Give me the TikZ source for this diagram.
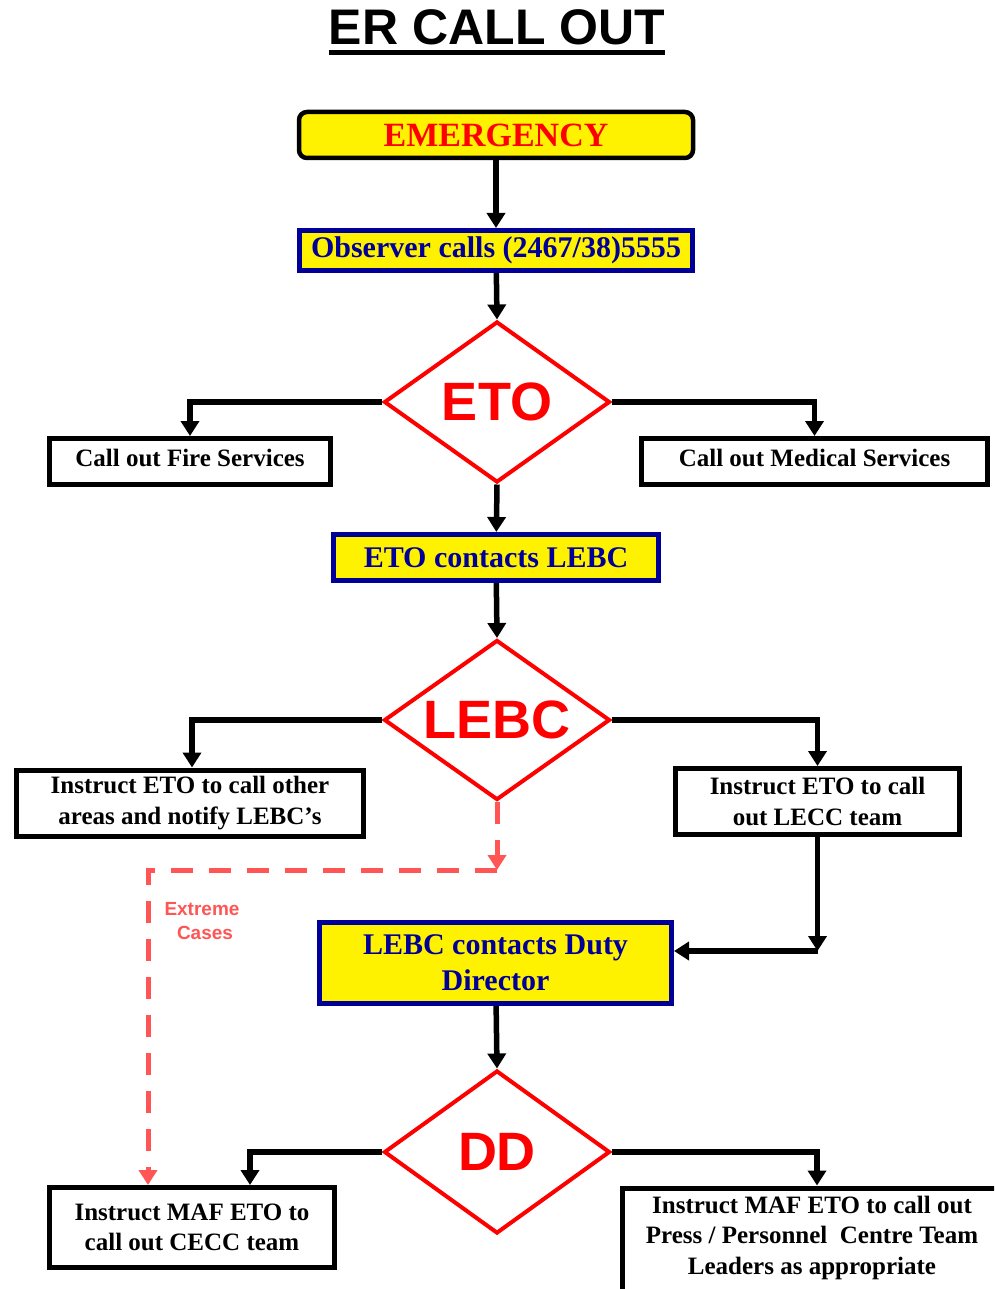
\documentclass[tikz,border=0pt]{standalone}
\usepackage{fontspec}
\setmainfont{Liberation Serif}
\newfontfamily\arialfont{Liberation Sans}
\usetikzlibrary{shapes.geometric,arrows.meta}
\definecolor{navyblue}{RGB}{0,0,153}
\definecolor{dashred}{RGB}{255,85,85}
\definecolor{ddred}{RGB}{255,0,0}
\begin{document}
\begin{tikzpicture}[x=1pt,y=-1pt,
  conn/.style={line width=5.5pt,-{Triangle[width=18pt,length=15pt]}},
  dashconn/.style={draw=dashred,line width=5pt,dash pattern=on 22pt off 16pt,-{Triangle[width=18pt,length=15pt]}},
  whitebox/.style={draw=black,line width=5pt,fill=white,inner sep=0pt,align=center,font=\bfseries\fontsize{25}{30.5}\selectfont},
  bluebox/.style={draw=navyblue,line width=5pt,fill=yellow,text=navyblue,inner sep=0pt,align=center,font=\bfseries\fontsize{30}{36}\selectfont},
  dia/.style={diamond,draw=ddred,line width=4pt,fill=white,inner sep=0pt,minimum width=226pt},
  dtext/.style={text=ddred,inner sep=0pt,font=\arialfont\bfseries\fontsize{54}{60}\selectfont}
]
\path[use as bounding box] (0,0) rectangle (994,1289);
\clip (0,0) rectangle (994,1289);

% title
\node[anchor=base,inner sep=0pt,font=\arialfont\bfseries\fontsize{50}{56}\selectfont] (title) at (497,45) {ER CALL OUT};
\draw[line width=5pt] ([yshift=-7.5pt]title.base west) -- ([yshift=-7.5pt]title.base east);

% nodes
\node[draw=black,line width=4.5pt,fill=yellow,rounded corners=8pt,inner sep=0pt,
      minimum width=394pt,minimum height=46pt,text=ddred,
      font=\bfseries\fontsize{34}{40}\selectfont] (emerg) at (496,135) {EMERGENCY};
\node[bluebox,minimum width=393pt,minimum height=40pt] (obs) at (496,250.5) {Observer calls (2467/38)5555};
\node[dia,minimum height=161pt,label={[dtext]center:ETO}] (eto) at (497,402) {};
\node[whitebox,minimum width=281pt,minimum height=46pt,text height=18pt,text depth=8pt] (fire) at (190,461.5) {Call out Fire Services};
\node[whitebox,minimum width=346pt,minimum height=46pt,text height=18pt,text depth=8pt] (med) at (814.5,461.5) {Call out Medical Services};
\node[bluebox,minimum width=325pt,minimum height=46pt] (etol) at (496,557.5) {ETO contacts LEBC};
\node[dia,minimum height=160pt,label={[dtext]center:LEBC}] (lebc) at (497,720) {};
\node[whitebox,minimum width=347pt,minimum height=66pt] (lbox) at (190,803) {Instruct ETO to call other\\areas and notify LEBC’s};
\node[whitebox,minimum width=284pt,minimum height=66pt] (rbox) at (817.5,801.5) {Instruct ETO to call\\out LECC team};
\node[bluebox,minimum width=352pt,minimum height=81pt] (ddbox) at (495.5,963) {LEBC contacts Duty\\Director};
\node[dia,minimum height=163pt,label={[dtext]center:DD}] (dd) at (497,1152) {};
\node[whitebox,minimum width=285pt,minimum height=80pt] (cecc) at (192,1227.5) {Instruct MAF ETO to\\call out CECC team};
\node[whitebox,anchor=north,minimum width=380pt] (press) at (812,1185.5)
  {\parbox[t][130pt][t]{370pt}{\centering\rule{0pt}{25pt}Instruct MAF ETO to call out\\Press / Personnel~ Centre Team\\Leaders as appropriate}};
\node[text=dashred,align=center,inner sep=0pt,font=\arialfont\bfseries\fontsize{19}{24}\selectfont] (extreme) at (202,921) {Extreme\\\hspace*{6pt}Cases};

% coordinates
\coordinate (c1) at (497,870);
\coordinate (c2) at (148,870);
\coordinate (c3) at (817.5,951);

% connectors
\draw[conn] (emerg) -- (obs);
\draw[conn] (obs) -- (eto.north);
\draw[conn] (eto.west) -| (fire.north);
\draw[conn] (eto.east) -| (med.north);
\draw[conn] (eto.south) -- (etol);
\draw[conn] (etol) -- (lebc.north);
\draw[conn] (lebc.west) -| ([xshift=2pt]lbox.north);
\draw[conn] (lebc.east) -| (rbox.north);
\draw[dashconn] (lebc.south) -- (c1);
\draw[dashconn] (c1) -- (c2) -- (c2 |- cecc.north);
\draw[conn] (rbox.south) -- (c3);
\draw[conn] (c3) -- (c3 -| ddbox.east);
\draw[conn] (ddbox) -- (dd.north);
\draw[conn] (dd.west) -| ([xshift=58pt]cecc.north);
\draw[conn] (dd.east) -| ([xshift=5pt]press.north);
\end{tikzpicture}
\end{document}
